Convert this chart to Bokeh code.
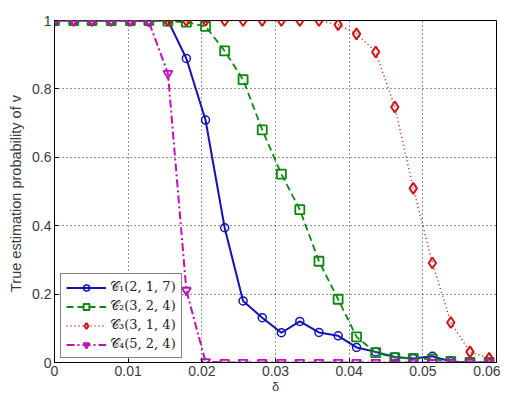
from bokeh.plotting import figure
from bokeh.models import FixedTicker, Legend, LegendItem, Range1d
from bokeh.embed import file_html
from bokeh.resources import INLINE

delta = [0, 0.0026, 0.0051, 0.0077, 0.0103, 0.0128, 0.0154, 0.0179, 0.0205, 0.0231,
         0.0256, 0.0282, 0.0308, 0.0333, 0.0359, 0.0385, 0.0410, 0.0436, 0.0462, 0.0487,
         0.0513, 0.0538, 0.0564, 0.0590]
c1 = [1, 1, 1, 1, 1, 1, 1, 0.889, 0.709, 0.394, 0.180, 0.131, 0.087, 0.120, 0.088, 0.078,
      0.044, 0.031, 0.016, 0.012, 0.018, 0.003, 0, 0]
c2 = [1, 1, 1, 1, 1, 1, 0.998, 0.995, 0.983, 0.911, 0.827, 0.680, 0.551, 0.447, 0.296, 0.185,
      0.075, 0.029, 0.014, 0.012, 0.010, 0.003, 0, 0]
c3 = [1, 1, 1, 1, 1, 1, 1, 1, 1, 1, 1, 1, 1, 1, 1, 0.988, 0.961, 0.908, 0.747, 0.509,
      0.291, 0.117, 0.031, 0.012]
c4 = [1, 1, 1, 1, 1, 0.997, 0.845, 0.211, 0.002, 0, 0, 0, 0, 0, 0, 0, 0, 0, 0, 0, 0, 0, 0, 0]
labels = ["\U0001D49E\u2081(2, 1, 7)", "\U0001D49E\u2082(3, 2, 4)",
          "\U0001D49E\u2083(3, 1, 4)", "\U0001D49E\u2084(5, 2, 4)"]
x_ticks = [0, 0.01, 0.02, 0.03, 0.04, 0.05, 0.06]
x_tick_labels = ["0", "0.01", "0.02", "0.03", "0.04", "0.05", "0.06"]
y_ticks = [0, 0.2, 0.4, 0.6, 0.8, 1]
y_tick_labels = ["0", "0.2", "0.4", "0.6", "0.8", "1"]

FONT = "Liberation Sans"

p = figure(width=500, height=396, output_backend="svg", toolbar_location=None,
           x_range=Range1d(0, 0.06), y_range=Range1d(0, 1),
           min_border_left=54, min_border_right=4, min_border_top=20, min_border_bottom=33)
p.outline_line_color = "black"
p.outline_line_width = 1
p.background_fill_color = "white"
p.border_fill_color = "white"

for ax, ticks, labs in ((p.xaxis[0], x_ticks, x_tick_labels), (p.yaxis[0], y_ticks, y_tick_labels)):
    ax.ticker = FixedTicker(ticks=ticks)
    ax.major_label_overrides = {t: l for t, l in zip(ticks, labs)}
    ax.major_tick_in = 4
    ax.major_tick_out = 0
    ax.minor_tick_line_color = None
    ax.axis_line_color = "black"
    ax.major_tick_line_color = "black"
    ax.major_label_text_font = FONT
    ax.major_label_text_font_size = "14px"
    ax.major_label_text_color = "#3a3a3a"
    ax.axis_label_text_font = FONT
    ax.axis_label_text_font_style = "normal"
    ax.axis_label_text_color = "#3a3a3a"

p.xaxis.axis_label = "\u03b4"
p.xaxis.axis_label_text_font_size = "13px"
p.xaxis.axis_label_standoff = 0
p.xaxis.major_label_standoff = 3
p.yaxis.axis_label = "True estimation probability of  v"
p.yaxis.axis_label_text_font_size = "14.5px"
p.yaxis.axis_label_standoff = 5
p.yaxis.major_label_standoff = 3

for g in (p.xgrid[0], p.ygrid[0]):
    g.grid_line_color = "black"
    g.grid_line_dash = "1 3"
    g.grid_line_width = 1
    g.grid_line_alpha = 0.85

blue = "#1212b8"
green = "#0a8a0a"
red = "#d41414"
mag = "#c010c0"

l1 = p.line(delta, c1, line_color=blue, line_width=2)
m1 = p.scatter(delta, c1, marker="circle", size=8, line_color=blue, fill_color=None, line_width=1.5)
l2 = p.line(delta, c2, line_color=green, line_width=1.8, line_dash="7 4")
m2 = p.scatter(delta, c2, marker="square", size=9, line_color=green, fill_color=None, line_width=1.8)
l3 = p.line(delta, c3, line_color=red, line_width=1.5, line_dash="1 3")
m3 = p.scatter(delta, c3, marker="diamond", size=11, line_color=red, fill_color=None, line_width=2)
l4 = p.line(delta, c4, line_color=mag, line_width=2, line_dash="8 3 2 3")
m4 = p.scatter(delta, c4, marker="inverted_triangle", size=9, line_color=mag, fill_color=None, line_width=1.8)

legend = Legend(items=[LegendItem(label=labels[0], renderers=[l1, m1]),
                       LegendItem(label=labels[1], renderers=[l2, m2]),
                       LegendItem(label=labels[2], renderers=[l3, m3]),
                       LegendItem(label=labels[3], renderers=[l4, m4])],
                location=(6, 4))
legend.border_line_color = "black"
legend.border_line_width = 1
legend.background_fill_alpha = 1
legend.label_text_font = "DejaVu Serif"
legend.label_text_font_size = "13px"
legend.label_text_color = "#222222"
legend.glyph_width = 40
legend.glyph_height = 15
legend.label_height = 15
legend.spacing = 3
legend.padding = 5
legend.margin = 0
legend.label_standoff = 4
p.add_layout(legend)

open("out.html", "w").write(file_html(p, INLINE))
